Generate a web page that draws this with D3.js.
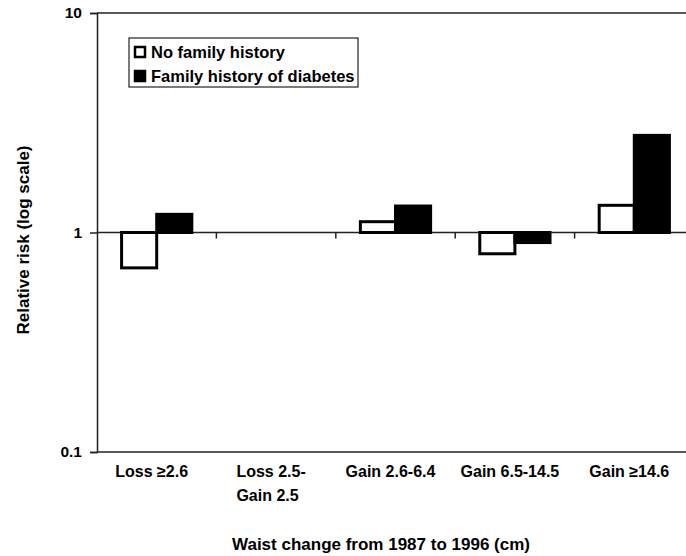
<html>
<head>
<script src="https://d3js.org/d3.v7.min.js"></script>
<style>
  body { margin: 0; background: white; }
  text { font-family: "Liberation Sans", Arial, sans-serif; font-weight: bold; fill: black; }
</style>
</head>
<body>
<svg width="686" height="556"></svg>
<script>
// data
var categories = ["Loss \u22652.6", "Loss 2.5-|Gain 2.5", "Gain 2.6-6.4", "Gain 6.5-14.5", "Gain \u226514.6"];
var series = ["No family history", "Family history of diabetes"];
var noHistory = [0.69, null, 1.12, 0.80, 1.33];
var familyHistory = [1.21, null, 1.32, 0.90, 2.77];
var yTicks = [0.1, 1, 10];
var yTickLabels = ["0.1", "1", "10"];

var svg = d3.select("svg");

var x = d3.scaleBand().domain(categories).range([97, 694]).paddingInner(0);
var xs = d3.scaleBand().domain(series).range([0, x.bandwidth()]).paddingInner(0).paddingOuter(0.7);
var y = d3.scaleLog().domain([0.1, 10]).range([452, 13]);

// frame lines: top at 10 and bottom at 0.1
svg.append("line").attr("x1", 97).attr("x2", 686).attr("y1", y(10)).attr("y2", y(10))
  .attr("stroke", "#222").attr("stroke-width", 1.5);
svg.append("line").attr("x1", 97).attr("x2", 686).attr("y1", y(0.1)).attr("y2", y(0.1))
  .attr("stroke", "#222").attr("stroke-width", 1.5);

// y axis
var yAxis = svg.append("g").attr("transform", "translate(97,0)")
  .call(d3.axisLeft(y).tickValues(yTicks).tickSize(7).tickPadding(8)
    .tickFormat(function (d, i) { return yTickLabels[i]; }));
yAxis.select(".domain").attr("stroke", "#222").attr("stroke-width", 1.5);
yAxis.selectAll(".tick line").attr("stroke", "#222").attr("stroke-width", 1.5);
yAxis.selectAll(".tick text").style("font-size", "15.5px").style("font-family", "Liberation Sans, Arial")
  .style("font-weight", "bold").attr("fill", "black");

// baseline at 1 with category-boundary ticks
var bounds = categories.map(function (c) { return x(c); }).slice(1);
svg.append("line").attr("x1", 97).attr("x2", 686).attr("y1", y(1)).attr("y2", y(1))
  .attr("stroke", "#222").attr("stroke-width", 1.5);
svg.selectAll(".btick").data(bounds).enter().append("line")
  .attr("x1", function (d) { return d; }).attr("x2", function (d) { return d; })
  .attr("y1", y(1)).attr("y2", y(1) + 6)
  .attr("stroke", "#222").attr("stroke-width", 1.5);

// bars
var rows = [];
categories.forEach(function (c, i) {
  rows.push({ cat: c, s: series[0], v: noHistory[i] });
  rows.push({ cat: c, s: series[1], v: familyHistory[i] });
});
svg.selectAll(".bar").data(rows.filter(function (d) { return d.v != null; })).enter().append("rect")
  .attr("x", function (d) { return x(d.cat) + xs(d.s); })
  .attr("width", xs.bandwidth())
  .attr("y", function (d) { return Math.min(y(d.v), y(1)); })
  .attr("height", function (d) { return Math.abs(y(d.v) - y(1)); })
  .attr("fill", function (d) { return d.s == series[0] ? "white" : "black"; })
  .attr("stroke", "black").attr("stroke-width", 3);

// category labels
svg.selectAll(".cat").data(categories).enter().append("text")
  .attr("class", "cat")
  .style("font-size", "16px")
  .each(function (d) {
    var parts = d.split("|");
    var t = d3.select(this);
    var cx = x(d) + x.bandwidth() / 2 - 5;
    if (parts.length == 1) {
      t.attr("x", cx).attr("y", 477).attr("text-anchor", "middle").text(d);
    } else {
      parts.forEach(function (p, j) {
        t.append("tspan").attr("x", cx).attr("y", 477 + j * 24).text(p);
      });
      var w = d3.max(t.selectAll("tspan").nodes(), function (n) { return n.getComputedTextLength(); });
      t.selectAll("tspan").attr("x", cx - w / 2);
    }
  });

// axis titles
svg.append("text").attr("x", 381).attr("y", 550).attr("text-anchor", "middle")
  .style("font-size", "17px").text("Waist change from 1987 to 1996 (cm)");
svg.append("text").attr("transform", "translate(29,240) rotate(-90)").attr("text-anchor", "middle")
  .style("font-size", "17px").text("Relative risk (log scale)");

// legend
var lg = svg.append("g");
lg.append("rect").attr("x", 129).attr("y", 38).attr("width", 229).attr("height", 49)
  .attr("fill", "white").attr("stroke", "#222").attr("stroke-width", 1.2);
series.forEach(function (s, i) {
  var yy = 52 + i * 24;
  lg.append("rect").attr("x", 135).attr("y", yy - 5).attr("width", 10).attr("height", 10)
    .attr("fill", i == 0 ? "white" : "black").attr("stroke", "black").attr("stroke-width", 2.5);
  lg.append("text").attr("x", 151).attr("y", yy + 6).style("font-size", "16.5px").text(s);
});
</script>
</body>
</html>
